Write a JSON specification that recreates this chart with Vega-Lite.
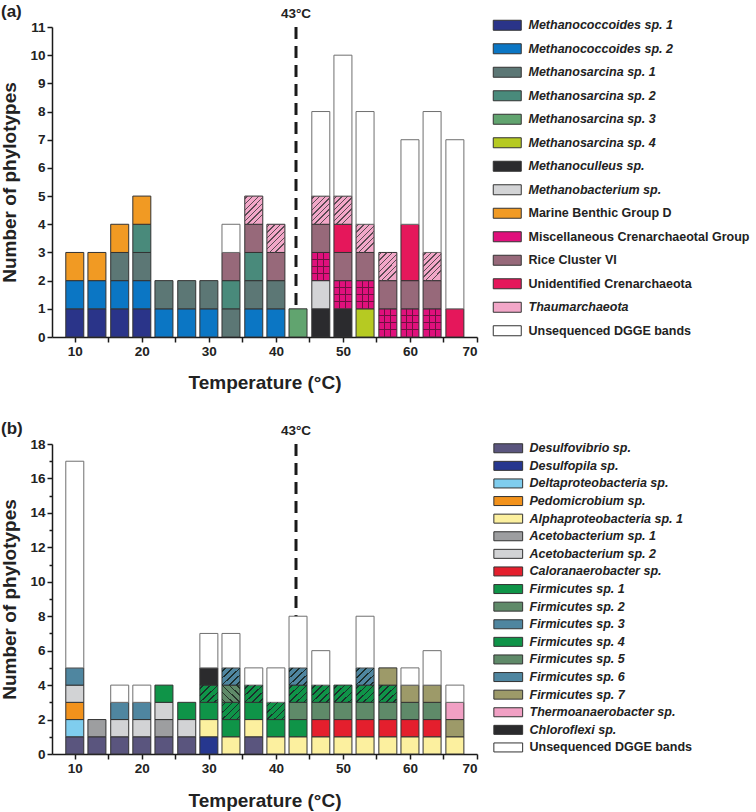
{
  "$schema": "https://vega.github.io/schema/vega-lite/v6.json",
  "padding": {"left": 0, "top": 3, "right": 0, "bottom": 0},
  "background": "white",
  "config": {
    "font": "Liberation Sans",
    "view": {"stroke": null},
    "axis": {"grid": false, "domainColor": "#1a1a1a", "domainWidth": 1.5, "tickColor": "#1a1a1a", "tickWidth": 1.5, "labelFontSize": 13.5, "labelFontWeight": "bold", "labelColor": "#222222", "titleFontSize": 19, "titleFontWeight": "bold", "titleColor": "#222222", "labelPadding": 2, "labelOverlap": false}
  },
  "datasets": {
    "A": [
      {"t": 10, "cat": "Methanococcoides sp. 1", "n": 1}, {"t": 10, "cat": "Methanococcoides sp. 2", "n": 1}, {"t": 10, "cat": "Marine Benthic Group D", "n": 1},
      {"t": 13.3, "cat": "Methanococcoides sp. 1", "n": 1}, {"t": 13.3, "cat": "Methanococcoides sp. 2", "n": 1}, {"t": 13.3, "cat": "Marine Benthic Group D", "n": 1},
      {"t": 16.7, "cat": "Methanococcoides sp. 1", "n": 1}, {"t": 16.7, "cat": "Methanococcoides sp. 2", "n": 1}, {"t": 16.7, "cat": "Methanosarcina sp. 1", "n": 1}, {"t": 16.7, "cat": "Marine Benthic Group D", "n": 1},
      {"t": 20, "cat": "Methanococcoides sp. 1", "n": 1}, {"t": 20, "cat": "Methanococcoides sp. 2", "n": 1}, {"t": 20, "cat": "Methanosarcina sp. 1", "n": 1}, {"t": 20, "cat": "Methanosarcina sp. 2", "n": 1}, {"t": 20, "cat": "Marine Benthic Group D", "n": 1},
      {"t": 23.3, "cat": "Methanococcoides sp. 2", "n": 1}, {"t": 23.3, "cat": "Methanosarcina sp. 1", "n": 1},
      {"t": 26.7, "cat": "Methanococcoides sp. 2", "n": 1}, {"t": 26.7, "cat": "Methanosarcina sp. 1", "n": 1},
      {"t": 30, "cat": "Methanococcoides sp. 2", "n": 1}, {"t": 30, "cat": "Methanosarcina sp. 1", "n": 1},
      {"t": 33.3, "cat": "Methanosarcina sp. 1", "n": 1}, {"t": 33.3, "cat": "Methanosarcina sp. 2", "n": 1}, {"t": 33.3, "cat": "Rice Cluster VI", "n": 1}, {"t": 33.3, "cat": "Unsequenced DGGE bands", "n": 1},
      {"t": 36.7, "cat": "Methanococcoides sp. 2", "n": 1}, {"t": 36.7, "cat": "Methanosarcina sp. 1", "n": 1}, {"t": 36.7, "cat": "Methanosarcina sp. 2", "n": 1}, {"t": 36.7, "cat": "Rice Cluster VI", "n": 1}, {"t": 36.7, "cat": "Thaumarchaeota", "n": 1},
      {"t": 40, "cat": "Methanococcoides sp. 2", "n": 1}, {"t": 40, "cat": "Methanosarcina sp. 1", "n": 1}, {"t": 40, "cat": "Rice Cluster VI", "n": 1}, {"t": 40, "cat": "Thaumarchaeota", "n": 1},
      {"t": 43.3, "cat": "Methanosarcina sp. 3", "n": 1},
      {"t": 46.7, "cat": "Methanoculleus sp.", "n": 1}, {"t": 46.7, "cat": "Methanobacterium sp.", "n": 1}, {"t": 46.7, "cat": "Miscellaneous Crenarchaeotal Group", "n": 1}, {"t": 46.7, "cat": "Rice Cluster VI", "n": 1}, {"t": 46.7, "cat": "Thaumarchaeota", "n": 1}, {"t": 46.7, "cat": "Unsequenced DGGE bands", "n": 3},
      {"t": 50, "cat": "Methanoculleus sp.", "n": 1}, {"t": 50, "cat": "Miscellaneous Crenarchaeotal Group", "n": 1}, {"t": 50, "cat": "Rice Cluster VI", "n": 1}, {"t": 50, "cat": "Unidentified Crenarchaeota", "n": 1}, {"t": 50, "cat": "Thaumarchaeota", "n": 1}, {"t": 50, "cat": "Unsequenced DGGE bands", "n": 5},
      {"t": 53.3, "cat": "Methanosarcina sp. 4", "n": 1}, {"t": 53.3, "cat": "Miscellaneous Crenarchaeotal Group", "n": 1}, {"t": 53.3, "cat": "Rice Cluster VI", "n": 1}, {"t": 53.3, "cat": "Thaumarchaeota", "n": 1}, {"t": 53.3, "cat": "Unsequenced DGGE bands", "n": 4},
      {"t": 56.7, "cat": "Miscellaneous Crenarchaeotal Group", "n": 1}, {"t": 56.7, "cat": "Rice Cluster VI", "n": 1}, {"t": 56.7, "cat": "Thaumarchaeota", "n": 1},
      {"t": 60, "cat": "Miscellaneous Crenarchaeotal Group", "n": 1}, {"t": 60, "cat": "Rice Cluster VI", "n": 1}, {"t": 60, "cat": "Unidentified Crenarchaeota", "n": 2}, {"t": 60, "cat": "Unsequenced DGGE bands", "n": 3},
      {"t": 63.3, "cat": "Miscellaneous Crenarchaeotal Group", "n": 1}, {"t": 63.3, "cat": "Rice Cluster VI", "n": 1}, {"t": 63.3, "cat": "Thaumarchaeota", "n": 1}, {"t": 63.3, "cat": "Unsequenced DGGE bands", "n": 5},
      {"t": 66.7, "cat": "Unidentified Crenarchaeota", "n": 1}, {"t": 66.7, "cat": "Unsequenced DGGE bands", "n": 6}
    ],
    "B": [
      {"t": 10, "cat": "Desulfovibrio sp.", "n": 1}, {"t": 10, "cat": "Deltaproteobacteria sp.", "n": 1}, {"t": 10, "cat": "Pedomicrobium sp.", "n": 1}, {"t": 10, "cat": "Acetobacterium sp. 2", "n": 1}, {"t": 10, "cat": "Firmicutes sp. 3", "n": 1}, {"t": 10, "cat": "Unsequenced DGGE bands", "n": 12},
      {"t": 13.3, "cat": "Desulfovibrio sp.", "n": 1}, {"t": 13.3, "cat": "Acetobacterium sp. 1", "n": 1},
      {"t": 16.7, "cat": "Desulfovibrio sp.", "n": 1}, {"t": 16.7, "cat": "Acetobacterium sp. 2", "n": 1}, {"t": 16.7, "cat": "Firmicutes sp. 3", "n": 1}, {"t": 16.7, "cat": "Unsequenced DGGE bands", "n": 1},
      {"t": 20, "cat": "Desulfovibrio sp.", "n": 1}, {"t": 20, "cat": "Acetobacterium sp. 2", "n": 1}, {"t": 20, "cat": "Firmicutes sp. 3", "n": 1}, {"t": 20, "cat": "Unsequenced DGGE bands", "n": 1},
      {"t": 23.3, "cat": "Desulfovibrio sp.", "n": 1}, {"t": 23.3, "cat": "Acetobacterium sp. 1", "n": 1}, {"t": 23.3, "cat": "Acetobacterium sp. 2", "n": 1}, {"t": 23.3, "cat": "Firmicutes sp. 1", "n": 1},
      {"t": 26.7, "cat": "Desulfovibrio sp.", "n": 1}, {"t": 26.7, "cat": "Acetobacterium sp. 2", "n": 1}, {"t": 26.7, "cat": "Firmicutes sp. 1", "n": 1},
      {"t": 30, "cat": "Desulfopila sp.", "n": 1}, {"t": 30, "cat": "Alphaproteobacteria sp. 1", "n": 1}, {"t": 30, "cat": "Firmicutes sp. 1", "n": 1}, {"t": 30, "cat": "Firmicutes sp. 4", "n": 1}, {"t": 30, "cat": "Chloroflexi sp.", "n": 1}, {"t": 30, "cat": "Unsequenced DGGE bands", "n": 2},
      {"t": 33.3, "cat": "Alphaproteobacteria sp. 1", "n": 1}, {"t": 33.3, "cat": "Firmicutes sp. 1", "n": 1}, {"t": 33.3, "cat": "Firmicutes sp. 4", "n": 1}, {"t": 33.3, "cat": "Firmicutes sp. 5", "n": 1}, {"t": 33.3, "cat": "Firmicutes sp. 6", "n": 1}, {"t": 33.3, "cat": "Unsequenced DGGE bands", "n": 2},
      {"t": 36.7, "cat": "Desulfovibrio sp.", "n": 1}, {"t": 36.7, "cat": "Alphaproteobacteria sp. 1", "n": 1}, {"t": 36.7, "cat": "Firmicutes sp. 1", "n": 1}, {"t": 36.7, "cat": "Firmicutes sp. 4", "n": 1}, {"t": 36.7, "cat": "Unsequenced DGGE bands", "n": 1},
      {"t": 40, "cat": "Alphaproteobacteria sp. 1", "n": 1}, {"t": 40, "cat": "Firmicutes sp. 1", "n": 1}, {"t": 40, "cat": "Firmicutes sp. 4", "n": 1}, {"t": 40, "cat": "Unsequenced DGGE bands", "n": 2},
      {"t": 43.3, "cat": "Alphaproteobacteria sp. 1", "n": 1}, {"t": 43.3, "cat": "Firmicutes sp. 1", "n": 1}, {"t": 43.3, "cat": "Firmicutes sp. 2", "n": 1}, {"t": 43.3, "cat": "Firmicutes sp. 4", "n": 1}, {"t": 43.3, "cat": "Firmicutes sp. 6", "n": 1}, {"t": 43.3, "cat": "Unsequenced DGGE bands", "n": 3},
      {"t": 46.7, "cat": "Alphaproteobacteria sp. 1", "n": 1}, {"t": 46.7, "cat": "Caloranaerobacter sp.", "n": 1}, {"t": 46.7, "cat": "Firmicutes sp. 2", "n": 1}, {"t": 46.7, "cat": "Firmicutes sp. 4", "n": 1}, {"t": 46.7, "cat": "Unsequenced DGGE bands", "n": 2},
      {"t": 50, "cat": "Alphaproteobacteria sp. 1", "n": 1}, {"t": 50, "cat": "Caloranaerobacter sp.", "n": 1}, {"t": 50, "cat": "Firmicutes sp. 2", "n": 1}, {"t": 50, "cat": "Firmicutes sp. 4", "n": 1},
      {"t": 53.3, "cat": "Alphaproteobacteria sp. 1", "n": 1}, {"t": 53.3, "cat": "Caloranaerobacter sp.", "n": 1}, {"t": 53.3, "cat": "Firmicutes sp. 2", "n": 1}, {"t": 53.3, "cat": "Firmicutes sp. 4", "n": 1}, {"t": 53.3, "cat": "Firmicutes sp. 6", "n": 1}, {"t": 53.3, "cat": "Unsequenced DGGE bands", "n": 3},
      {"t": 56.7, "cat": "Alphaproteobacteria sp. 1", "n": 1}, {"t": 56.7, "cat": "Caloranaerobacter sp.", "n": 1}, {"t": 56.7, "cat": "Firmicutes sp. 2", "n": 1}, {"t": 56.7, "cat": "Firmicutes sp. 4", "n": 1}, {"t": 56.7, "cat": "Firmicutes sp. 7", "n": 1},
      {"t": 60, "cat": "Alphaproteobacteria sp. 1", "n": 1}, {"t": 60, "cat": "Caloranaerobacter sp.", "n": 1}, {"t": 60, "cat": "Firmicutes sp. 2", "n": 1}, {"t": 60, "cat": "Firmicutes sp. 7", "n": 1}, {"t": 60, "cat": "Unsequenced DGGE bands", "n": 1},
      {"t": 63.3, "cat": "Alphaproteobacteria sp. 1", "n": 1}, {"t": 63.3, "cat": "Caloranaerobacter sp.", "n": 1}, {"t": 63.3, "cat": "Firmicutes sp. 2", "n": 1}, {"t": 63.3, "cat": "Firmicutes sp. 7", "n": 1}, {"t": 63.3, "cat": "Unsequenced DGGE bands", "n": 2},
      {"t": 66.7, "cat": "Alphaproteobacteria sp. 1", "n": 1}, {"t": 66.7, "cat": "Firmicutes sp. 7", "n": 1}, {"t": 66.7, "cat": "Thermoanaerobacter sp.", "n": 1}, {"t": 66.7, "cat": "Unsequenced DGGE bands", "n": 1}
    ]
  },
  "resolve": {"scale": {"color": "independent"}, "legend": {"color": "independent"}},
  "spacing": 27,
  "vconcat": [
    {
      "title": {"text": "(a)", "anchor": "start", "frame": "bounds", "fontSize": 17, "fontWeight": "bold", "color": "#222222", "offset": -14},
      "width": 425,
      "height": 310,
      "layer": [
        {
          "data": {"values": [{}]},
          "mark": {"type": "rule", "strokeDash": [12, 7], "strokeWidth": 3, "color": "#1a1a1a"},
          "encoding": {"x": {"datum": 43, "type": "quantitative"}}
        },
        {
          "data": {"values": [{}]},
          "mark": {"type": "text", "text": "43°C", "dy": -13, "fontSize": 13.5, "fontWeight": "bold", "color": "#222222"},
          "encoding": {"x": {"datum": 43, "type": "quantitative"}, "y": {"datum": 11, "type": "quantitative"}}
        },
        {
          "data": {"name": "A"},
          "transform": [{"stack": "n", "groupby": ["t"], "as": ["y0", "y1"]}],
          "mark": {"type": "bar", "size": 18, "strokeWidth": 1},
          "encoding": {
            "x": {"field": "t", "type": "quantitative", "title": "Temperature (°C)",
              "scale": {"domain": [6.6, 70], "nice": false, "zero": false, "padding": 0},
              "axis": {"values": [10, 15, 20, 25, 30, 35, 40, 45, 50, 55, 60, 65, 70], "tickCount": 100, "format": "d", "labelExpr": "datum.value % 10 === 0 ? datum.label : ''", "labelOverlap": false, "tickSize": 5, "titlePadding": 16}},
            "y": {"field": "y0", "type": "quantitative", "title": "Number of phylotypes",
              "scale": {"domain": [0, 11], "nice": false},
              "axis": {"values": [0, 0.5, 1, 1.5, 2, 2.5, 3, 3.5, 4, 4.5, 5, 5.5, 6, 6.5, 7, 7.5, 8, 8.5, 9, 9.5, 10, 10.5, 11], "tickCount": 100, "format": "d", "labelExpr": "datum.value % 1 === 0 ? datum.label : ''", "labelOverlap": false, "tickSize": {"condition": {"test": "datum.value % 1 !== 0", "value": 3}, "value": 5}, "titlePadding": 10}},
            "y2": {"field": "y1"},
            "stroke": {"condition": {"test": "datum.cat === 'Unsequenced DGGE bands'", "value": "#6f6f6f"}, "value": "#333333"},
            "color": {"field": "cat", "type": "nominal",
              "scale": {
                "domain": ["Methanococcoides sp. 1", "Methanococcoides sp. 2", "Methanosarcina sp. 1", "Methanosarcina sp. 2", "Methanosarcina sp. 3", "Methanosarcina sp. 4", "Methanoculleus sp.", "Methanobacterium sp.", "Marine Benthic Group D", "Miscellaneous Crenarchaeotal Group", "Rice Cluster VI", "Unidentified Crenarchaeota", "Thaumarchaeota", "Unsequenced DGGE bands"],
                "range": ["#2a3489", "#0b76c4", "#5c7775", "#498a7b", "#61a46f", "#b6ca22", "#2b2b2e", "#d3d4d6", "#f19a23", "#e0107c", "#97697a", "#e5175b", "#f2a7c8", "#ffffff"]
              },
              "legend": {"title": null, "orient": "none", "legendX": 449, "legendY": -8, "padding": 0, "symbolType": "M-2.8,-1H2.8V1H-2.8Z", "symbolSize": 100, "symbolStrokeColor": "#333333", "symbolStrokeWidth": 1, "labelFontSize": 12.5, "labelFontWeight": "bold", "labelColor": "#222222", "labelOffset": 15, "labelLimit": 300, "rowPadding": 8.5,
                "encode": {
                  "labels": {"update": {"fontStyle": {"signal": "indexof(['Marine Benthic Group D','Miscellaneous Crenarchaeotal Group','Rice Cluster VI','Unidentified Crenarchaeota','Unsequenced DGGE bands'], datum.label) >= 0 ? 'normal' : 'italic'"}}},
                  "symbols": {"update": {"stroke": {"value": "#333333"}, "strokeWidth": {"value": 1}}}
                }}
            }
          }
        },
        {
          "data": {"name": "A"},
          "transform": [{"stack": "n", "groupby": ["t"], "as": ["y0", "y1"]}, {"filter": "datum.cat === 'Miscellaneous Crenarchaeotal Group'"}],
          "mark": {"type": "bar", "size": 18, "strokeWidth": 0, "fill": {"gradient": "linear", "x1": 0, "y1": 0, "x2": 1, "y2": 0, "stops": [
            {"offset": 0, "color": "rgba(0,0,0,0)"}, {"offset": 0.305, "color": "rgba(0,0,0,0)"}, {"offset": 0.305, "color": "#6e1040"}, {"offset": 0.36, "color": "#6e1040"}, {"offset": 0.36, "color": "rgba(0,0,0,0)"}, {"offset": 0.64, "color": "rgba(0,0,0,0)"}, {"offset": 0.64, "color": "#6e1040"}, {"offset": 0.695, "color": "#6e1040"}, {"offset": 0.695, "color": "rgba(0,0,0,0)"}, {"offset": 1, "color": "rgba(0,0,0,0)"}]}},
          "encoding": {
            "x": {"field": "t", "type": "quantitative", "title": "Temperature (°C)"},
            "y": {"field": "y0", "type": "quantitative", "title": "Number of phylotypes"},
            "y2": {"field": "y1"}
          }
        },
        {
          "data": {"name": "A"},
          "transform": [{"stack": "n", "groupby": ["t"], "as": ["y0", "y1"]}, {"filter": "datum.cat === 'Miscellaneous Crenarchaeotal Group'"}],
          "mark": {"type": "bar", "size": 18, "strokeWidth": 0, "fill": {"gradient": "linear", "x1": 0, "y1": 0, "x2": 0, "y2": 1, "stops": [
            {"offset": 0, "color": "rgba(0,0,0,0)"}, {"offset": 0.232, "color": "rgba(0,0,0,0)"}, {"offset": 0.232, "color": "#6e1040"}, {"offset": 0.268, "color": "#6e1040"}, {"offset": 0.268, "color": "rgba(0,0,0,0)"}, {"offset": 0.482, "color": "rgba(0,0,0,0)"}, {"offset": 0.482, "color": "#6e1040"}, {"offset": 0.518, "color": "#6e1040"}, {"offset": 0.518, "color": "rgba(0,0,0,0)"}, {"offset": 0.732, "color": "rgba(0,0,0,0)"}, {"offset": 0.732, "color": "#6e1040"}, {"offset": 0.768, "color": "#6e1040"}, {"offset": 0.768, "color": "rgba(0,0,0,0)"}, {"offset": 1, "color": "rgba(0,0,0,0)"}]}},
          "encoding": {
            "x": {"field": "t", "type": "quantitative", "title": "Temperature (°C)"},
            "y": {"field": "y0", "type": "quantitative", "title": "Number of phylotypes"},
            "y2": {"field": "y1"}
          }
        },
        {
          "data": {"name": "A"},
          "transform": [{"stack": "n", "groupby": ["t"], "as": ["y0", "y1"]}, {"filter": "datum.cat === 'Thaumarchaeota'"}],
          "mark": {"type": "bar", "size": 18, "strokeWidth": 0, "fill": {"gradient": "linear", "x1": 0, "y1": 0, "x2": 0.643, "y2": 1, "stops": [
            {"offset": 0, "color": "rgba(0,0,0,0)"}, {"offset": 0.0525, "color": "rgba(0,0,0,0)"}, {"offset": 0.0525, "color": "#5a4a52"}, {"offset": 0.0875, "color": "#5a4a52"}, {"offset": 0.0875, "color": "rgba(0,0,0,0)"}, {"offset": 0.1925, "color": "rgba(0,0,0,0)"}, {"offset": 0.1925, "color": "#5a4a52"}, {"offset": 0.2275, "color": "#5a4a52"}, {"offset": 0.2275, "color": "rgba(0,0,0,0)"}, {"offset": 0.3325, "color": "rgba(0,0,0,0)"}, {"offset": 0.3325, "color": "#5a4a52"}, {"offset": 0.3675, "color": "#5a4a52"}, {"offset": 0.3675, "color": "rgba(0,0,0,0)"}, {"offset": 0.4725, "color": "rgba(0,0,0,0)"}, {"offset": 0.4725, "color": "#5a4a52"}, {"offset": 0.5075, "color": "#5a4a52"}, {"offset": 0.5075, "color": "rgba(0,0,0,0)"}, {"offset": 0.6125, "color": "rgba(0,0,0,0)"}, {"offset": 0.6125, "color": "#5a4a52"}, {"offset": 0.6475, "color": "#5a4a52"}, {"offset": 0.6475, "color": "rgba(0,0,0,0)"}, {"offset": 0.7525, "color": "rgba(0,0,0,0)"}, {"offset": 0.7525, "color": "#5a4a52"}, {"offset": 0.7875, "color": "#5a4a52"}, {"offset": 0.7875, "color": "rgba(0,0,0,0)"}, {"offset": 0.8925, "color": "rgba(0,0,0,0)"}, {"offset": 0.8925, "color": "#5a4a52"}, {"offset": 0.9275, "color": "#5a4a52"}, {"offset": 0.9275, "color": "rgba(0,0,0,0)"}, {"offset": 1, "color": "rgba(0,0,0,0)"}]}},
          "encoding": {
            "x": {"field": "t", "type": "quantitative", "title": "Temperature (°C)"},
            "y": {"field": "y0", "type": "quantitative", "title": "Number of phylotypes"},
            "y2": {"field": "y1"}
          }
        }
      ]
    },
    {
      "title": {"text": "(b)", "anchor": "start", "frame": "bounds", "fontSize": 17, "fontWeight": "bold", "color": "#222222", "offset": -14},
      "width": 425,
      "height": 310,
      "layer": [
        {
          "data": {"values": [{}]},
          "mark": {"type": "rule", "strokeDash": [12, 7], "strokeWidth": 3, "color": "#1a1a1a"},
          "encoding": {"x": {"datum": 43, "type": "quantitative"}}
        },
        {
          "data": {"values": [{}]},
          "mark": {"type": "text", "text": "43°C", "dy": -13, "fontSize": 13.5, "fontWeight": "bold", "color": "#222222"},
          "encoding": {"x": {"datum": 43, "type": "quantitative"}, "y": {"datum": 18, "type": "quantitative"}}
        },
        {
          "data": {"name": "B"},
          "transform": [{"stack": "n", "groupby": ["t"], "as": ["y0", "y1"]}],
          "mark": {"type": "bar", "size": 18, "strokeWidth": 1},
          "encoding": {
            "x": {"field": "t", "type": "quantitative", "title": "Temperature (°C)",
              "scale": {"domain": [6.6, 70], "nice": false, "zero": false, "padding": 0},
              "axis": {"values": [10, 15, 20, 25, 30, 35, 40, 45, 50, 55, 60, 65, 70], "tickCount": 100, "format": "d", "labelExpr": "datum.value % 10 === 0 ? datum.label : ''", "labelOverlap": false, "tickSize": 5, "titlePadding": 17}},
            "y": {"field": "y0", "type": "quantitative", "title": "Number of phylotypes",
              "scale": {"domain": [0, 18], "nice": false},
              "axis": {"values": [0, 1, 2, 3, 4, 5, 6, 7, 8, 9, 10, 11, 12, 13, 14, 15, 16, 17, 18], "tickCount": 100, "format": "d", "labelExpr": "datum.value % 2 === 0 ? datum.label : ''", "labelOverlap": false, "tickSize": {"condition": {"test": "datum.value % 2 !== 0", "value": 3}, "value": 5}, "titlePadding": 10}},
            "y2": {"field": "y1"},
            "stroke": {"condition": {"test": "datum.cat === 'Unsequenced DGGE bands'", "value": "#6f6f6f"}, "value": "#333333"},
            "color": {"field": "cat", "type": "nominal",
              "scale": {
                "domain": ["Desulfovibrio sp.", "Desulfopila sp.", "Deltaproteobacteria sp.", "Pedomicrobium sp.", "Alphaproteobacteria sp. 1", "Acetobacterium sp. 1", "Acetobacterium sp. 2", "Caloranaerobacter sp.", "Firmicutes sp. 1", "Firmicutes sp. 2", "Firmicutes sp. 3", "Firmicutes sp. 4", "Firmicutes sp. 5", "Firmicutes sp. 6", "Firmicutes sp. 7", "Thermoanaerobacter sp.", "Chloroflexi sp.", "Unsequenced DGGE bands"],
                "range": ["#5a557e", "#26378f", "#7fcdee", "#f2921c", "#fcf09f", "#9d9ea0", "#d2d3d5", "#e41f2d", "#0f9448", "#5f8a69", "#4f86a0", "#0f9448", "#5f8a69", "#4f86a0", "#9d9a69", "#f1a0c4", "#2b2b2d", "#ffffff"]
              },
              "legend": {"title": null, "orient": "none", "legendX": 450, "legendY": -2, "padding": 0, "symbolType": "M-3.2,-1H3.2V1H-3.2Z", "symbolSize": 81, "symbolStrokeColor": "#333333", "symbolStrokeWidth": 1, "labelFontSize": 12.5, "labelFontWeight": "bold", "labelColor": "#222222", "labelOffset": 15, "labelLimit": 300, "rowPadding": 3.6,
                "encode": {
                  "labels": {"update": {"fontStyle": {"signal": "datum.label === 'Unsequenced DGGE bands' ? 'normal' : 'italic'"}}},
                  "symbols": {"update": {"stroke": {"value": "#333333"}, "strokeWidth": {"value": 1}}}
                }}
            }
          }
        },
        {
          "data": {"name": "B"},
          "transform": [{"stack": "n", "groupby": ["t"], "as": ["y0", "y1"]}, {"filter": "datum.cat === 'Firmicutes sp. 4' || datum.cat === 'Firmicutes sp. 6'"}],
          "mark": {"type": "bar", "size": 18, "strokeWidth": 0, "fill": {"gradient": "linear", "x1": 0, "y1": 0, "x2": 1, "y2": 1, "stops": [
            {"offset": 0, "color": "rgba(0,0,0,0)"}, {"offset": 0.08, "color": "rgba(0,0,0,0)"}, {"offset": 0.08, "color": "#1c2e2c"}, {"offset": 0.12, "color": "#1c2e2c"}, {"offset": 0.12, "color": "rgba(0,0,0,0)"}, {"offset": 0.28, "color": "rgba(0,0,0,0)"}, {"offset": 0.28, "color": "#1c2e2c"}, {"offset": 0.32, "color": "#1c2e2c"}, {"offset": 0.32, "color": "rgba(0,0,0,0)"}, {"offset": 0.48, "color": "rgba(0,0,0,0)"}, {"offset": 0.48, "color": "#1c2e2c"}, {"offset": 0.52, "color": "#1c2e2c"}, {"offset": 0.52, "color": "rgba(0,0,0,0)"}, {"offset": 0.68, "color": "rgba(0,0,0,0)"}, {"offset": 0.68, "color": "#1c2e2c"}, {"offset": 0.72, "color": "#1c2e2c"}, {"offset": 0.72, "color": "rgba(0,0,0,0)"}, {"offset": 0.88, "color": "rgba(0,0,0,0)"}, {"offset": 0.88, "color": "#1c2e2c"}, {"offset": 0.92, "color": "#1c2e2c"}, {"offset": 0.92, "color": "rgba(0,0,0,0)"}, {"offset": 1, "color": "rgba(0,0,0,0)"}]}},
          "encoding": {
            "x": {"field": "t", "type": "quantitative", "title": "Temperature (°C)"},
            "y": {"field": "y0", "type": "quantitative", "title": "Number of phylotypes"},
            "y2": {"field": "y1"}
          }
        },
        {
          "data": {"name": "B"},
          "transform": [{"stack": "n", "groupby": ["t"], "as": ["y0", "y1"]}, {"filter": "datum.cat === 'Firmicutes sp. 5'"}],
          "mark": {"type": "bar", "size": 18, "strokeWidth": 0, "fill": {"gradient": "linear", "x1": 0, "y1": 1, "x2": 1, "y2": 0, "stops": [
            {"offset": 0, "color": "rgba(0,0,0,0)"}, {"offset": 0.08, "color": "rgba(0,0,0,0)"}, {"offset": 0.08, "color": "#25332a"}, {"offset": 0.12, "color": "#25332a"}, {"offset": 0.12, "color": "rgba(0,0,0,0)"}, {"offset": 0.28, "color": "rgba(0,0,0,0)"}, {"offset": 0.28, "color": "#25332a"}, {"offset": 0.32, "color": "#25332a"}, {"offset": 0.32, "color": "rgba(0,0,0,0)"}, {"offset": 0.48, "color": "rgba(0,0,0,0)"}, {"offset": 0.48, "color": "#25332a"}, {"offset": 0.52, "color": "#25332a"}, {"offset": 0.52, "color": "rgba(0,0,0,0)"}, {"offset": 0.68, "color": "rgba(0,0,0,0)"}, {"offset": 0.68, "color": "#25332a"}, {"offset": 0.72, "color": "#25332a"}, {"offset": 0.72, "color": "rgba(0,0,0,0)"}, {"offset": 0.88, "color": "rgba(0,0,0,0)"}, {"offset": 0.88, "color": "#25332a"}, {"offset": 0.92, "color": "#25332a"}, {"offset": 0.92, "color": "rgba(0,0,0,0)"}, {"offset": 1, "color": "rgba(0,0,0,0)"}]}},
          "encoding": {
            "x": {"field": "t", "type": "quantitative", "title": "Temperature (°C)"},
            "y": {"field": "y0", "type": "quantitative", "title": "Number of phylotypes"},
            "y2": {"field": "y1"}
          }
        }
      ]
    }
  ]
}
